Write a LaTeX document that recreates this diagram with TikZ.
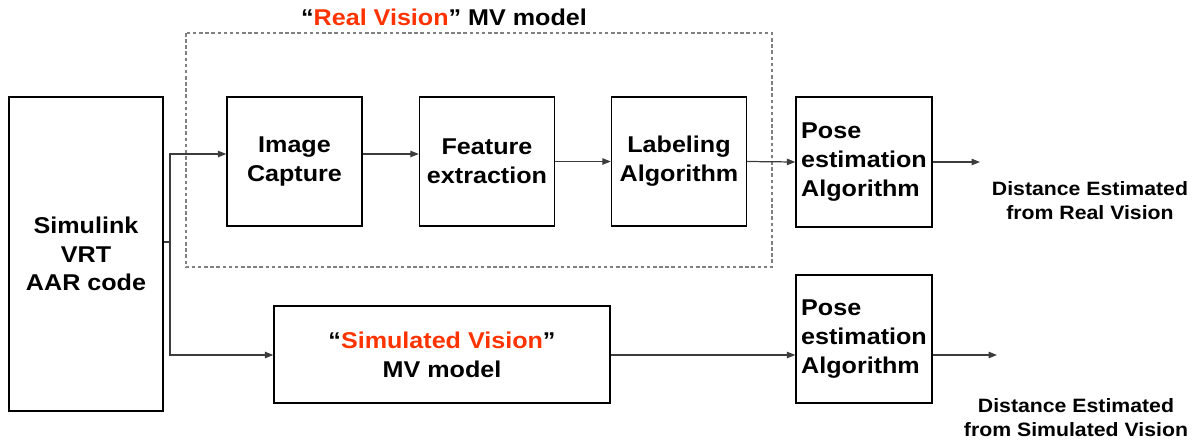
\documentclass[tikz,border=0pt]{standalone}
\usepackage{fontspec}
\setmainfont{Liberation Sans}
\newfontfamily\widesans[FakeStretch=1.1, Ligatures=TeX]{Liberation Sans}
\usetikzlibrary{arrows.meta}
\definecolor{visred}{RGB}{255,51,0}
\definecolor{linegray}{RGB}{60,60,60}
\newcommand{\bigtxt}{\widesans\fontsize{13pt}{16.4pt}\selectfont\bfseries}
\newcommand{\smalltxt}{\widesans\fontsize{11pt}{13.6pt}\selectfont\bfseries}
\begin{document}
\begin{tikzpicture}[x=0.02cm, y=-0.02cm,
	blk/.style={draw=black, line width=0.8pt, inner sep=0pt, align=center, font=\bigtxt},
	arr/.style={draw=linegray, line width=0.7pt, -{Triangle[length=0.17cm, width=0.13cm]}},
	outlbl/.style={align=center, font=\smalltxt}]
	\useasboundingbox (0,0) rectangle (1198,444);
	\draw [gray, line width=0.7pt, dash pattern=on 2pt off 1.5pt] (186,33) rectangle (772,267);
	\node [font=\bigtxt] (title) at (444,17) {``\textcolor{visred}{Real Vision}'' MV model};
	\node [blk, minimum width=3.08cm, minimum height=6.28cm] (sim) at (86,254) {Simulink\\VRT\\AAR code};
	\node [blk, minimum width=2.7cm, minimum height=2.58cm] (cap) at (294.5,161.5) {Image\\Capture};
	\node [blk, minimum width=2.7cm, minimum height=2.58cm] (feat) at (487,161.5) {Feature\\extraction};
	\node [blk, minimum width=2.7cm, minimum height=2.58cm] (lab) at (679,161.5) {Labeling\\Algorithm};
	\node [blk, align=left, minimum width=2.72cm, minimum height=2.6cm] (pose1) at (864,162) {Pose\\estimation\\Algorithm};
	\node [blk, align=left, minimum width=2.72cm, minimum height=2.56cm] (pose2) at (864,339) {Pose\\estimation\\Algorithm};
	\node [blk, minimum width=6.72cm, minimum height=1.94cm] (simv) at (442,354.5) {``\textcolor{visred}{Simulated Vision}''\\MV model};
	\node [outlbl] (out1) at (1090,201) {Distance Estimated\\from Real Vision};
	\node [outlbl] (out2) at (1076,418) {Distance Estimated\\from Simulated Vision};
	\coordinate (split) at (170,242);
	\coordinate (top) at (170,154);
	\coordinate (bot) at (170,355);
	\coordinate (end1) at (980,162);
	\coordinate (end2) at (997,355);
	\draw [linegray, line width=0.7pt] (sim.east |- split) -- (split);
	\draw [arr] (split) -- (top) -- (top -| cap.west);
	\draw [arr] (split) -- (bot) -- (bot -| simv.west);
	\draw [arr] (top -| cap.east) -- (top -| feat.west);
	\draw [arr] (feat.east) -- (lab.west);
	\draw [arr] (lab.east) -- (pose1.west);
	\draw [arr] (pose1.east |- end1) -- (end1);
	\draw [arr] (simv.east |- bot) -- (bot -| pose2.west);
	\draw [arr] (pose2.east |- end2) -- (end2);
\end{tikzpicture}
\end{document}
